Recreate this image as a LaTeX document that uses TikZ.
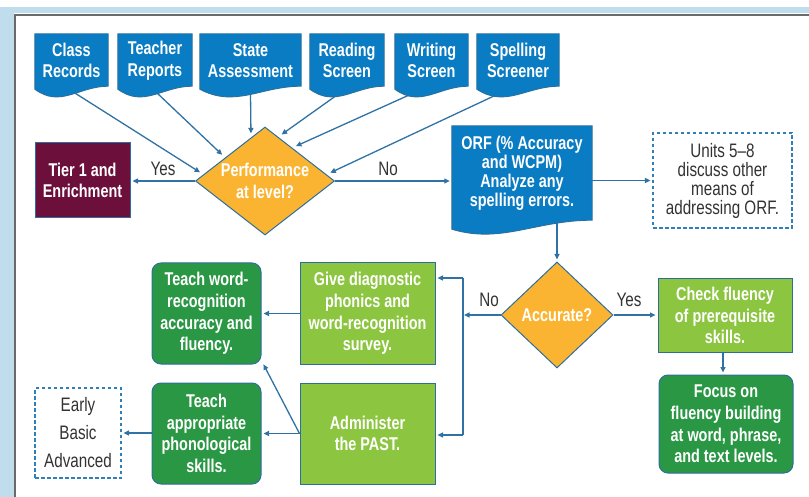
\documentclass[tikz,border=0pt]{standalone}
\usepackage{fontspec}
\setmainfont{Liberation Sans}[FakeStretch=0.78]
\usetikzlibrary{shapes.geometric,arrows.meta,calc}
\definecolor{docblue}{HTML}{0A7CC3}
\definecolor{diaorange}{HTML}{FBB432}
\definecolor{lightgreen}{HTML}{8CC540}
\definecolor{darkgreen}{HTML}{2A9744}
\definecolor{maroon}{HTML}{6C0F3B}
\definecolor{bordercol}{HTML}{2D6F9C}
\definecolor{linecol}{HTML}{2F72A3}
\definecolor{dashcol}{HTML}{2F80B8}
\definecolor{darktext}{HTML}{333333}
\definecolor{framelight}{HTML}{BFDDEC}
\definecolor{framegray}{HTML}{6A6A6A}
\pgfdeclarelayer{lines}
\pgfdeclarelayer{shapes}
\pgfsetlayers{lines,shapes,main}
% #1 node, #2 left-end drop, #3 control dip, #4 right-end offset
\newcommand\docshape[4]{%
  \path[fill=docblue,draw=bordercol,line width=0.9pt]
    (#1.north west) -- (#1.north east) -- ($(#1.south east)+(0,#4)$)
    .. controls ($(#1.south west)!0.6!(#1.south east)+(0,#4)$) and ($(#1.south west)!0.35!(#1.south east)+(0,#3)$) .. ($(#1.south west)+(0,#2)$) -- cycle;}
\begin{document}
\begin{tikzpicture}[x=1pt,y=-1pt,
  wtxt/.style={text=white,font=\bfseries\fontsize{18.5}{21.7}\selectfont,align=center,inner sep=0pt},
  rtxt/.style={text=darktext,font=\fontsize{19.5}{19}\selectfont,align=center,inner sep=0pt},
  docnode/.style={wtxt,minimum height=53pt},
  plainbox/.style={wtxt,draw=bordercol,line width=1pt},
  rbox/.style={plainbox,fill=darkgreen,rounded corners=9pt},
  lbox/.style={plainbox,fill=lightgreen},
  dbox/.style={rtxt,draw=dashcol,line width=1.2pt,dash pattern=on 3.5pt off 2.5pt},
  dia/.style={diamond,wtxt,draw=bordercol,line width=1pt,fill=diaorange},
  conn/.style={draw=linecol,line width=1.3pt},
  arr/.style={conn,-{Triangle[length=5.5pt,width=5pt]}},
  lab/.style={rtxt}
]
\useasboundingbox (0,0) rectangle (809,497);
\begin{pgfonlayer}{lines}
\fill[white] (0,0) rectangle (809,497);
\end{pgfonlayer}
% frame
\fill[framelight] (0,7) rectangle (809,13.5);
\fill[framelight] (0,7) rectangle (13.5,497);
\draw[framegray,line width=2.5pt] (14.8,497) -- (14.8,14.8) -- (809,14.8);

% top document nodes
\node[docnode,minimum width=73pt] (cr) at (71.5,60.5) {Class\\Records};
\node[docnode,minimum width=74pt] (tr) at (155,60.5) {Teacher\\Reports};
\node[docnode,minimum width=101pt] (sa) at (250.5,60.5) {State\\Assessment};
\node[docnode,minimum width=74pt] (rs) at (347,60.5) {Reading\\Screen};
\node[docnode,minimum width=73pt] (ws) at (431.5,60.5) {Writing\\Screen};
\node[docnode,minimum width=82pt] (ss) at (518,60.5) {Spelling\\Screener};

% decision and boxes
\node[dia,minimum width=139pt,minimum height=108pt,aspect=1.29] (perf) at (265,181) {Performance\\at level?};
\node[plainbox,fill=maroon,minimum width=95pt,minimum height=75pt,font=\bfseries\fontsize{18.5}{20.5}\selectfont] (tier) at (82.5,180.5) {Tier 1 and\\Enrichment};
\node[wtxt,minimum width=140pt,minimum height=94pt,font=\bfseries\fontsize{18.5}{19}\selectfont] (orf) at (522,173) {ORF (\% Accuracy\\and WCPM)\\Analyze any\\spelling errors.};
\node[dbox,minimum width=139pt,minimum height=95pt] (units) at (722.5,180.5) {Units 5--8\\discuss other\\means of\\addressing ORF.};
\node[dia,minimum width=112pt,minimum height=106pt] (acc) at (557,315) {Accurate?};
\node[lbox,minimum width=134pt,minimum height=73pt] (check) at (725,315.5) {Check fluency\\of prerequisite\\skills.};
\node[rbox,minimum width=134pt,minimum height=98pt] (focus) at (726,424) {Focus on\\fluency building\\at word, phrase,\\and text levels.};
\node[lbox,minimum width=135pt,minimum height=101pt] (give) at (367.5,313.5) {Give diagnostic\\phonics and\\word-recognition\\survey.};
\node[lbox,minimum width=135pt,minimum height=101pt] (admin) at (367.5,433.5) {Administer\\the PAST.};
\node[rbox,minimum width=109pt,minimum height=101pt] (tw) at (206.5,313.5) {Teach word-\\recognition\\accuracy and\\fluency.};
\node[rbox,minimum width=109pt,minimum height=101pt] (ta) at (206.5,433.5) {Teach\\appropriate\\phonological\\skills.};
\node[dbox,minimum width=86pt,minimum height=90pt,font=\fontsize{19.5}{28}\selectfont] (eba) at (78,433) {Early\\Basic\\Advanced};

% labels
\node[lab] (ly1) at (163,169) {Yes};
\node[lab] (ln1) at (388,169) {No};
\node[lab] (ln2) at (489,300) {No};
\node[lab] (ly2) at (629,300) {Yes};

\coordinate (jt) at (463,278);
\coordinate (jb) at (463,435);
\coordinate (jm) at (463,315);

% document shapes
\begin{pgfonlayer}{shapes}
\docshape{cr}{2}{21}{-1}
\docshape{tr}{2}{21}{-1}
\docshape{sa}{2}{21}{-1}
\docshape{rs}{2}{21}{-1}
\docshape{ws}{2}{21}{-1}
\docshape{ss}{2}{21}{-1}
\docshape{orf}{9}{24}{0}
\end{pgfonlayer}

% connectors
\begin{pgfonlayer}{lines}
\draw[arr,shorten >=4pt] ($(cr.south west)!0.55!(cr.south east)+(0,6)$) -- ($(perf.west)!0.12!(perf.north)$);
\draw[arr,shorten >=4pt] ($(tr.south west)!0.53!(tr.south east)+(0,6)$) -- ($(perf.west)!0.43!(perf.north)$);
\draw[arr,shorten >=4pt] ($(sa.south west)!0.5!(sa.south east)+(0,6)$) -- ($(perf.west)!0.8!(perf.north)$);
\draw[arr,shorten >=4pt] ($(rs.south west)!0.4!(rs.south east)+(0,6)$) -- ($(perf.north)!0.19!(perf.east)$);
\draw[arr,shorten >=4pt] ($(ws.south west)!0.25!(ws.south east)+(0,6)$) -- ($(perf.north)!0.39!(perf.east)$);
\draw[arr,shorten >=4pt] ($(ss.south west)!0.28!(ss.south east)+(0,6)$) -- ($(perf.north)!0.88!(perf.east)$);
\draw[arr,shorten >=2pt] (perf.west) -- (perf.west -| tier.east);
\draw[arr,shorten >=2pt] (perf.east) -- (perf.east -| orf.west);
\draw[arr,shorten >=2pt] (orf.east |- units.west) -- (units.west);
\draw[arr,shorten >=2pt] (acc.north |- orf.south) -- (acc.north);
\draw[arr,shorten >=1pt] (acc.west) -- (jm);
\draw[conn] (jt) -- (jb);
\draw[arr,shorten >=2pt] (jt) -- (jt -| give.east);
\draw[arr,shorten >=2pt] (jb) -- (jb -| admin.east);
\draw[arr,shorten >=2pt] (acc.east) -- (acc.east -| check.west);
\draw[arr,shorten >=2pt] (check.south -| 723,0) -- (focus.north -| 723,0);
\draw[arr,shorten >=2pt] (give.west) -- (give.west -| tw.east);
\draw[arr,shorten >=2pt] (admin.west) -- (admin.west -| ta.east);
\draw[arr,shorten >=2pt] (admin.west) -- ($(tw.south east)+(1,-2)$);
\draw[arr,shorten >=2pt] (ta.west |- eba.east) -- (eba.east);
\end{pgfonlayer}
\end{tikzpicture}
\end{document}
